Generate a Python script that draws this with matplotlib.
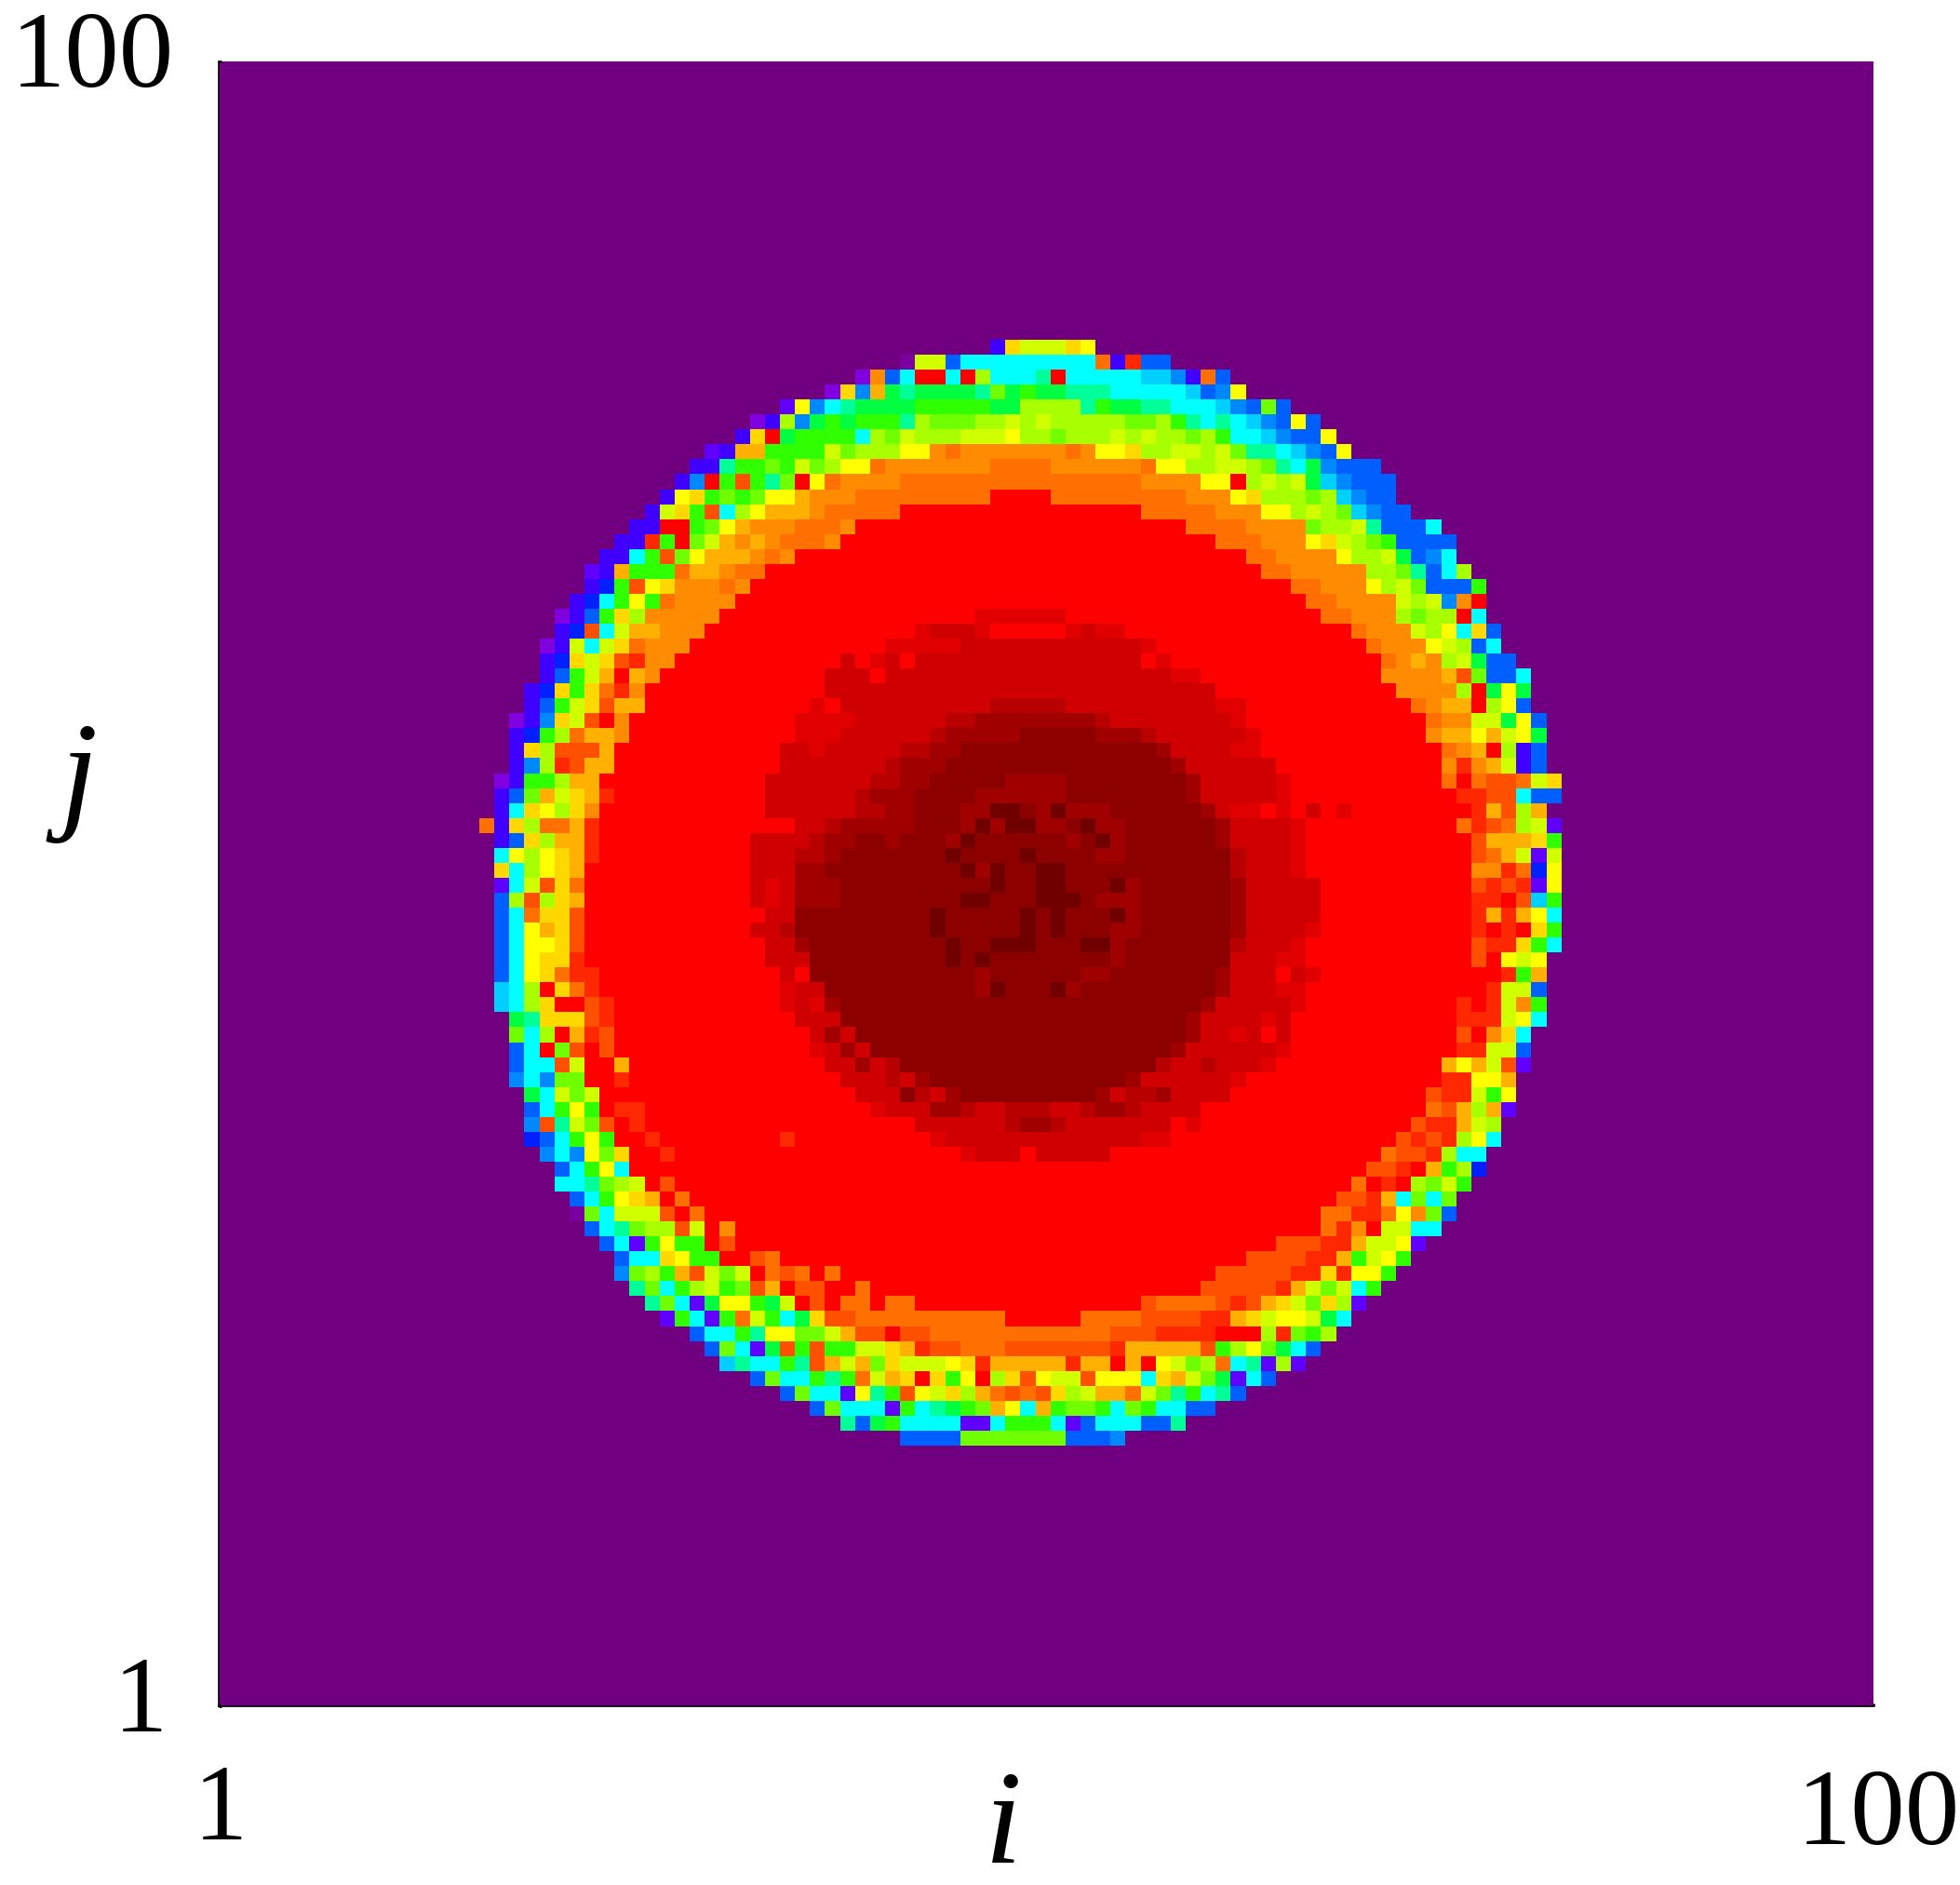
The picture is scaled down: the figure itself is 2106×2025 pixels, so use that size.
import re
import numpy as np
import matplotlib
matplotlib.use("Agg")
import matplotlib.pyplot as plt
from matplotlib.colors import ListedColormap, BoundaryNorm
from matplotlib.transforms import ScaledTranslation

# ordered value levels of the map (low -> high)
levels = list(".pwVvBbzCctGghlkyuaoOnmrDEFHJK")
level_colors = ["#700080", "#7a00a0", "#8000e0", "#6000ff", "#4000ff", "#0020ff", "#0060ff", "#0088ff",
                "#00d0ff", "#00ffff", "#00ff99", "#00ff40", "#30ff00", "#70ff00", "#a8ff00", "#d0ff00",
                "#ffff00", "#ffd800", "#ffb000", "#ff8c00", "#ff7000", "#ff5000", "#ff2800", "#ff0000",
                "#e00000", "#d00000", "#b80000", "#a00000", "#8c0000", "#700000"]

# run-length coded rows of the disc (letter + repeat count), top to bottom
rows = [
".34vuk3uy",
".28pk2bc9Ovmb2",
".25wobcr2crlc3trc5C2zvOb",
".23wuzaGtG4thGgG2t3c5Cbzy",
".20VyzctG4g5G2l4tgG2t2c3Czbhb",
".18wvlzGgGg3tlh3l2klkl5h2lgtctcCzbyb",
".17vurGg4clhkl3k3yl2hl3klkl2hlgc2Czb2y",
".15Vva2g4khl3y2oOo7Ooy2ul2k2lkht2cCzby",
".14v2tg2hgkhly2Oo7O4o6Oy2l2k2lhtcGzb3",
".13vzrgngthryOo4O16o4y2rlklkGCzb3",
".12vyughghy2ao3O9r4O9o3yul3hlCzb2",
".11vkugnclya3oO5r16O5o3y2lklhCzb2",
".10v2r2ghyao3O3or22O4o4hl2ktb3c",
".9v2mgrhkaoaoO3or25O3o3yuklhgb4",
".8v2cgnhya3oOor30O2o4yl2kGbzc",
".7Vvag3Oa2oO2r33O2o5l2htbcl",
".7vBgnyuo3Oor36O2o3ylkhb3g",
".6vBcgygOo4r38O2o4klkzor",
".5wvbgulo5r17D6r17O2o3lhl2rc",
".5vBncka2o3r14DE3Dr5DED2r15Oo3klycub",
".4wvkckuOo3r13D5E12Dr14Oo3yklbc",
".4vBukunmo2r11ErDErE15rDr14OoaolkGb2",
".4vbgkaraor11E3rE19D2r12o4anhb2c",
".3vBuguOmor12E26r12o4lrGyG",
".3vbgkuna2r11DrE10F5E10D2r11Ooa2rlyb",
".2wvzuknror11D4E6F2H8FE8Dr12Oo2k2Gyb",
".2vBglOa2or11D3E6FH5J5H3FE6Dr11oa2yakyG",
".2vuln3ar11E2DE5F2H2J13HE4D2r12Ooarlvb",
".2vzlmna2r11E7FH3J15HE6r11omoakvb",
".1wvg2la2r11E7F2H2J5H4J8HE5Dr10OrOn2Oku",
".1vbhakuamr10E6FH3J4H6J8HE5Dr11m2n2cb2",
".1vcuyluor11E6F2H2J3H2K2JHKH3J6HED2rDrErDr8manla",
".0OvulO2amr13E2FH5J3HKHK2H2JKH2J6HE4Dr10OmnOlkV",
".1vbula2mr10E4FH2J2HJ3HKJ6HJKHJ6HE4Dr11na3ug",
".1cylyuamr10E3F2HJ7KJ4KJ4H2J7FE3Dr11nOakVk",
".1uclyuar11E3H2J9KHKJ2K2J11FE3Dr11o2mOBy",
".1VcknuOr11EDEH3J10KJ2K2J3KHJ6HE5r10nmnmVy",
".1blnluar11EDEH3J8K2J3K3JH3J6HE5r10m2rnCg",
".1bcOu2nr12E2J9KJ5KJKJ3KHJ6HE5r10mamayc",
".1bcyaunr11E2FJ9KJ5KJKJ3H2J6HE4Dr10mrmrug",
".1bcy2unr12E2HJ9KJ2K3J3K2HJ7FE3Dr11nm2ugc",
".1bcyu2mr12E3J9KJKJ8HJ7E3D2r11nryky",
".1bcyuOm2r12ErJ11HJ6H2J7HE3rEDr12mga",
".1CclruOmr12DE2J10HKJ3KHJ9HE3D2r12mk2b",
".1Cclur2nmr11DEDHJ24HE5Dr10mrmkog",
".2Gtu3nmr12E3J23HE4DEr11m3kyc",
".2hclramnr13EHEJ22HE2DErEr11nrouc",
".2bcrhnrnr13DEHEJ20HE6Dr11m2k2b",
".2bc2nkr2ar13E2HEFJ17FE2FE3Dr11ayaknV",
".2zczh2r2mr14E3FEHJ13HE6Dr13m2y2a",
".3Gckhkr17E3JFEHJ9HEF2HE4r13nm2kgy",
".3bcgygrm2r15DE3H2FE2F3E2FH2FE4r15OnalaV",
".3zntkhnrmr18E6FH2FE7rDr14nm2akl",
".3Bbcgygr2mr8mr9DE13D2r15nmnmlyc",
".4zczyhur2mr19DE3rE5r18On2mlc2",
".5bcgycr49n2mraglB",
".5c2thlkrnr45Ormrlhkg",
".6bcgyuarOr43n2machch",
".6phck3nrOr41O2m2Oyohb",
".7bcthl2nkror39Omork2c2",
".8bcVgyg2rnr36n3m2ak2yV",
".9bc2uyg2r2nOr31n4m2agkyg",
".9zhlgankhkrOnOrOr25n5m2umy2g",
".10thcglkghnarn2r2Or22n5makhkcg",
".11thcVGy2gGkrnrO2rO2r15nO4nmnaukhulV",
".12VgcVgOkgcGun2O10r5O4n4m2auky2kGc",
".14bc2gty2h2kan2rn2O12n3m4r3lmhgl",
".15bhcVGngng2k2uamn2O3n7ma5nglyhGcb",
".16Ctc2gtnakahuk3yuma5ma2rarykhlOctVlV",
".18bhc2gtgOkaurugyrlunyk2ny3cuakhGVcb",
".20bhc2VytgnykulaOnOnulka2Okhtgctb",
".22bhc3VgctGghaycagh2gchgc2b2",
".24tbGgc4V2cg3cVbc3b2t",
".28b4h7b3z",
]
x_ticks = [1, 100]
y_ticks = [1, 100]
x_tick_labels = ["1", "100"]
y_tick_labels = ["1", "100"]
x_label = "i"
y_label = "j"

NCOLS = 73
grid = np.zeros((len(rows), NCOLS), dtype=int)
index = {c: n for n, c in enumerate(levels)}
for r, row in enumerate(rows):
    cells = []
    for ch, count in re.findall(r"([A-Za-z.])(\d*)", row):
        cells += [index[ch]] * (int(count) if count else 1)
    cells = cells[:NCOLS]
    grid[r, :len(cells)] = cells

W, H = 2106, 2025
AX_L, AX_R, AX_T, AX_B = 235, 2013, 66, 1833
fig = plt.figure(figsize=(W / 100, H / 100), dpi=100, facecolor="white")
ax = fig.add_axes([AX_L / W, 1 - AX_B / H, (AX_R - AX_L) / W, (AX_B - AX_T) / H])
ax.set_facecolor(level_colors[0])

def px_x(p):
    return 1 + 99 * (p - AX_L) / (AX_R - AX_L)

def px_y(p):
    return 100 - 99 * (p - AX_T) / (AX_B - AX_T)

cmap = ListedColormap(level_colors)
norm = BoundaryNorm(np.arange(len(levels) + 1) - 0.5, len(levels))
cell_w = 16.15
x0, y0, y1 = 515, 365, 1553
ax.imshow(grid, cmap=cmap, norm=norm, interpolation="nearest", aspect="auto", origin="upper",
          extent=[px_x(x0), px_x(x0 + cell_w * NCOLS), px_y(y1), px_y(y0)], zorder=1)
ax.set_xlim(1, 100)
ax.set_ylim(1, 100)

for s in ("top", "right"):
    ax.spines[s].set_visible(False)
for s in ("left", "bottom"):
    ax.spines[s].set_linewidth(1.2)
    ax.spines[s].set_color("black")
    ax.spines[s].set_zorder(5)

font = "Liberation Serif"
ax.set_xticks(x_ticks, x_tick_labels, fontname=font, fontsize=84)
ax.set_yticks(y_ticks, y_tick_labels, fontname=font, fontsize=84)
ax.tick_params(length=2.5, width=2, direction="in", color="black", pad=0)

def shift(label, dx, dy):
    label.set_transform(label.get_transform() + ScaledTranslation(dx / 100, -dy / 100, fig.dpi_scale_trans))

xl = ax.get_xticklabels()
yl = ax.get_yticklabels()
xl[0].set_va("baseline"); xl[1].set_va("baseline")
shift(xl[0], 2, 143)
shift(xl[1], 5, 148)
yl[0].set_ha("center"); yl[1].set_ha("center")
shift(yl[0], -84, -13)
shift(yl[1], -136, -13)

ax.set_xlabel(x_label, fontname=font, style="italic", fontsize=104, va="baseline")
ax.xaxis.set_label_coords((1078 - AX_L) / (AX_R - AX_L), -(2001 - AX_B) / (AX_B - AX_T))
ax.set_ylabel(y_label, fontname=font, style="italic", fontsize=104, rotation=0, va="baseline", ha="center")
ax.yaxis.set_label_coords((85 - AX_L) / (AX_R - AX_L), (AX_B - 875) / (AX_B - AX_T))

fig.savefig("out.png", dpi=100)
